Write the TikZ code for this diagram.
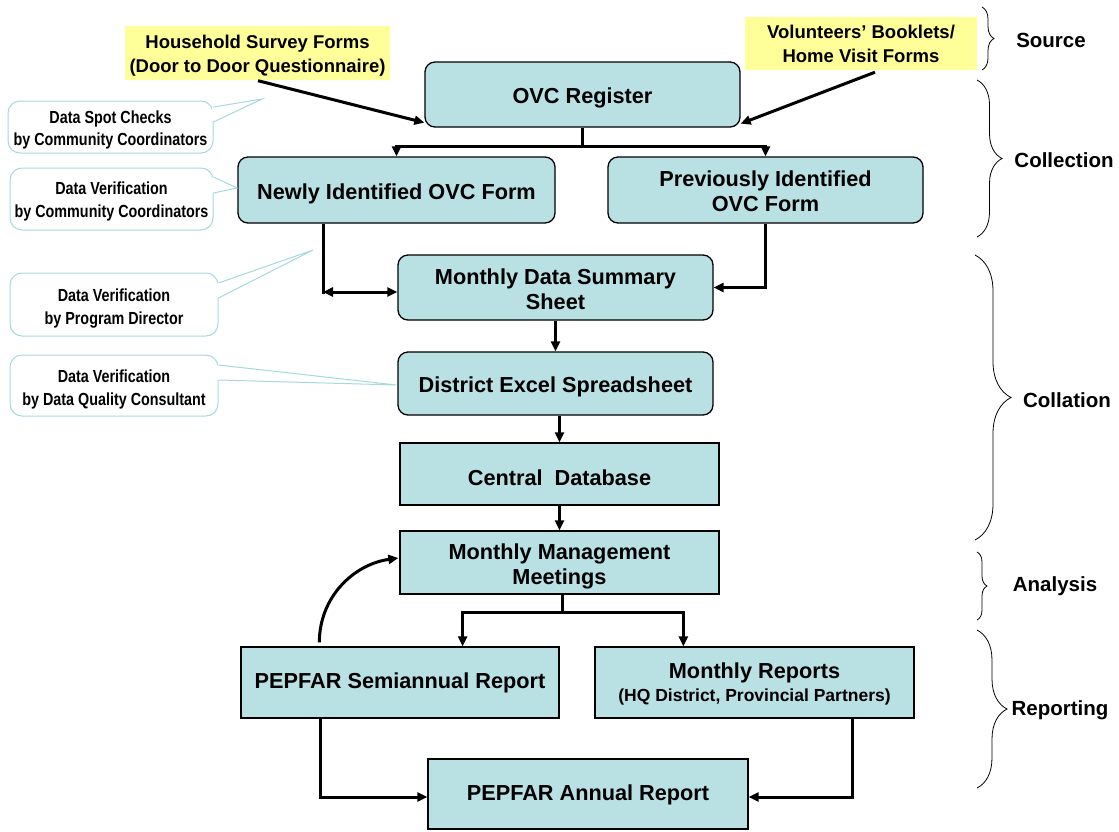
\documentclass[tikz,border=0pt]{standalone}
\usepackage{fontspec}
\setmainfont{Liberation Sans}
\newfontfamily\narrowfont[FakeStretch=0.82]{Liberation Sans}
\usetikzlibrary{arrows.meta,calc,decorations.pathreplacing}
\definecolor{boxblue}{RGB}{185,224,227}
\definecolor{srcyellow}{RGB}{255,255,153}
\definecolor{callcyan}{RGB}{166,217,222}
\newcommand\tg[1]{\rule{0pt}{#1}}
\begin{document}
\begin{tikzpicture}[x=1pt,y=-1pt,
  font=\bfseries\fontsize{21.7}{25}\selectfont,
  rbox/.style={draw=black,line width=1.3pt,fill=boxblue,rounded corners=10pt,align=center,inner sep=0pt},
  sbox/.style={draw=black,line width=1.3pt,fill=boxblue,align=center,inner sep=0pt},
  ybox/.style={fill=srcyellow,align=center,inner sep=0pt,font=\bfseries\fontsize{18.5}{24}\selectfont},
  callbox/.style={draw=callcyan,line width=1pt,fill=white,rounded corners=12pt,align=center,inner sep=0pt,
    font=\narrowfont\bfseries\fontsize{17.5}{22.5}\selectfont},
  callline/.style={draw=callcyan,line width=1pt},
  arr/.style={line width=3pt,-{Triangle[length=10pt,width=9pt]}},
  dblarr/.style={line width=3pt,{Triangle[length=10pt,width=9pt]}-{Triangle[length=10pt,width=9pt]}},
  plain/.style={line width=3pt},
  bracestyle/.style={decorate,decoration={brace,amplitude=#1},line width=0.8pt},
  stage/.style={font=\bfseries\fontsize{20.5}{24}\selectfont}
]
\useasboundingbox (0,0) rectangle (1119,831);

% source boxes
\node[ybox,minimum width=265pt,minimum height=54pt] (hh) at (257.5,52.5) {\tg{19.5pt}Household Survey Forms\\(Door to Door Questionnaire)};
\node[ybox,minimum width=232pt,minimum height=53pt] (vol) at (861,43.5) {Volunteers’ Booklets/\\Home Visit Forms};

% main boxes
\node[rbox,minimum width=315pt,minimum height=65pt] (reg) at (582.5,94.5) {\tg{22pt}OVC Register};
\node[rbox,minimum width=317pt,minimum height=66pt] (newly) at (396.5,190) {\tg{24pt}Newly Identified OVC Form};
\node[rbox,minimum width=315pt,minimum height=66pt] (prev) at (765.5,190) {\tg{19pt}Previously Identified\\OVC Form};
\node[rbox,minimum width=315pt,minimum height=65pt] (summ) at (555.5,287.5) {\tg{20pt}Monthly Data Summary\\Sheet};
\node[rbox,minimum width=315pt,minimum height=63pt] (dist) at (555.5,383.5) {\tg{22pt}District Excel Spreadsheet};
\node[sbox,minimum width=319pt,minimum height=62pt] (cdb) at (559.5,474) {\tg{24pt}Central~ Database};
\node[sbox,minimum width=319pt,minimum height=63pt] (mmm) at (559.5,562.5) {\tg{23pt}Monthly Management\\Meetings};
\node[sbox,minimum width=318pt,minimum height=71pt] (semi) at (400,682.5) {PEPFAR Semiannual Report};
\node[sbox,minimum width=319pt,minimum height=71pt] (mrep) at (754.5,682.5) {\tg{19pt}Monthly Reports\\[-2pt]{\fontsize{17.5}{20}\selectfont (HQ District, Provincial Partners)}};
\node[sbox,minimum width=320pt,minimum height=70pt] (ann) at (588,794) {\tg{18pt}PEPFAR Annual Report};

% connectors
\draw[arr] ($(hh.south)+(0.5,1)$) -- ($(reg.south west)+(0,-5)$);
\draw[arr] ($(vol.south)+(14,2)$) -- ($(reg.south east)+(0,-4)$);
\coordinate (rsplit) at ($(reg.south)+(0,19)$);
\draw[plain] (reg.south) -- (rsplit);
\draw[arr] (rsplit) -| (newly.north);
\draw[arr] (rsplit) -| (prev.north);
\coordinate (lc) at (323,292);
\draw[plain] (newly.south -| lc) -- ($(lc)+(0,1.5)$);
\draw[dblarr] (lc) -- (summ.west |- lc);
\draw[arr] (prev.south) |- (summ.east);
\draw[arr] (summ.south) -- (dist.north);
\draw[arr] (dist.south -| cdb.north) -- (cdb.north);
\draw[arr] (cdb.south) -- (mmm.north);
\coordinate (msplit) at ($(mmm.south)+(3,18)$);
\coordinate (semitop) at ($(semi.north east)+(-97,0)$);
\coordinate (mreptop) at ($(mrep.north west)+(89,0)$);
\draw[plain] (mmm.south -| msplit) -- (msplit);
\draw[arr] (msplit) -| (semitop);
\draw[arr] (msplit) -| (mreptop);
\coordinate (curvestart) at ($(semi.north west)+(79,-4)$);
\draw[arr] (curvestart) to[out=90,in=188] ($(mmm.west)+(-1,-4.5)$);
\coordinate (semibot) at ($(semi.south west)+(80,0)$);
\coordinate (mrepbot) at ($(mrep.south east)+(-62,0)$);
\draw[arr] (semibot) |- ($(ann.west)+(0,3)$);
\draw[arr] (mrepbot) |- ($(ann.east)+(0,3)$);

% callouts
\node[callbox,minimum width=205pt,minimum height=52pt] (c1) at (110.5,127) {\tg{19pt}Data Spot Checks\\by Community Coordinators};
\node[callbox,minimum width=203pt,minimum height=62pt] (c2) at (111.5,199) {\tg{18pt}Data Verification\\by Community Coordinators};
\node[callbox,minimum width=208pt,minimum height=63pt] (c3) at (114,304.5) {\tg{20.5pt}Data Verification\\by Program Director};
\node[callbox,minimum width=208pt,minimum height=61pt] (c4) at (114,385.5) {\tg{20.5pt}Data Verification\\by Data Quality Consultant};
\coordinate (t1) at (262,99);
\coordinate (t2) at (237,188);
\coordinate (t3) at (313,250);
\coordinate (t4) at ($(dist.west)+(-1,1.5)$);
\foreach \c/\t/\a/\b in {c1/t1/-20/-5, c2/t2/-22/-6, c3/t3/-21.5/-6.5, c4/t4/-20.5/-5.5}{
  \fill[white] ($(\c.east)+(-1.6,\a)$) -- (\t) -- ($(\c.east)+(-1.6,\b)$) -- cycle;
  \draw[callline] ($(\c.east)+(0,\a)$) -- (\t) -- ($(\c.east)+(0,\b)$);
}

% braces and stage labels
\draw[bracestyle=12pt] (982,7) -- (982,70);
\draw[bracestyle=25pt] (977,80) -- (977,237);
\draw[bracestyle=36pt] (975,255) -- (975,540);
\draw[bracestyle=10pt] (977,552) -- (977,620);
\draw[bracestyle=30pt] (977,630) -- (977,788);
\node[stage] (lsource) at (1051,40) {Source};
\node[stage] (lcollection) at (1064,160) {Collection};
\node[stage] (lcollation) at (1067,400) {Collation};
\node[stage] (lanalysis) at (1055,586) {Analysis};
\node[stage] (lreporting) at (1060,710) {Reporting};
\end{tikzpicture}
\end{document}
